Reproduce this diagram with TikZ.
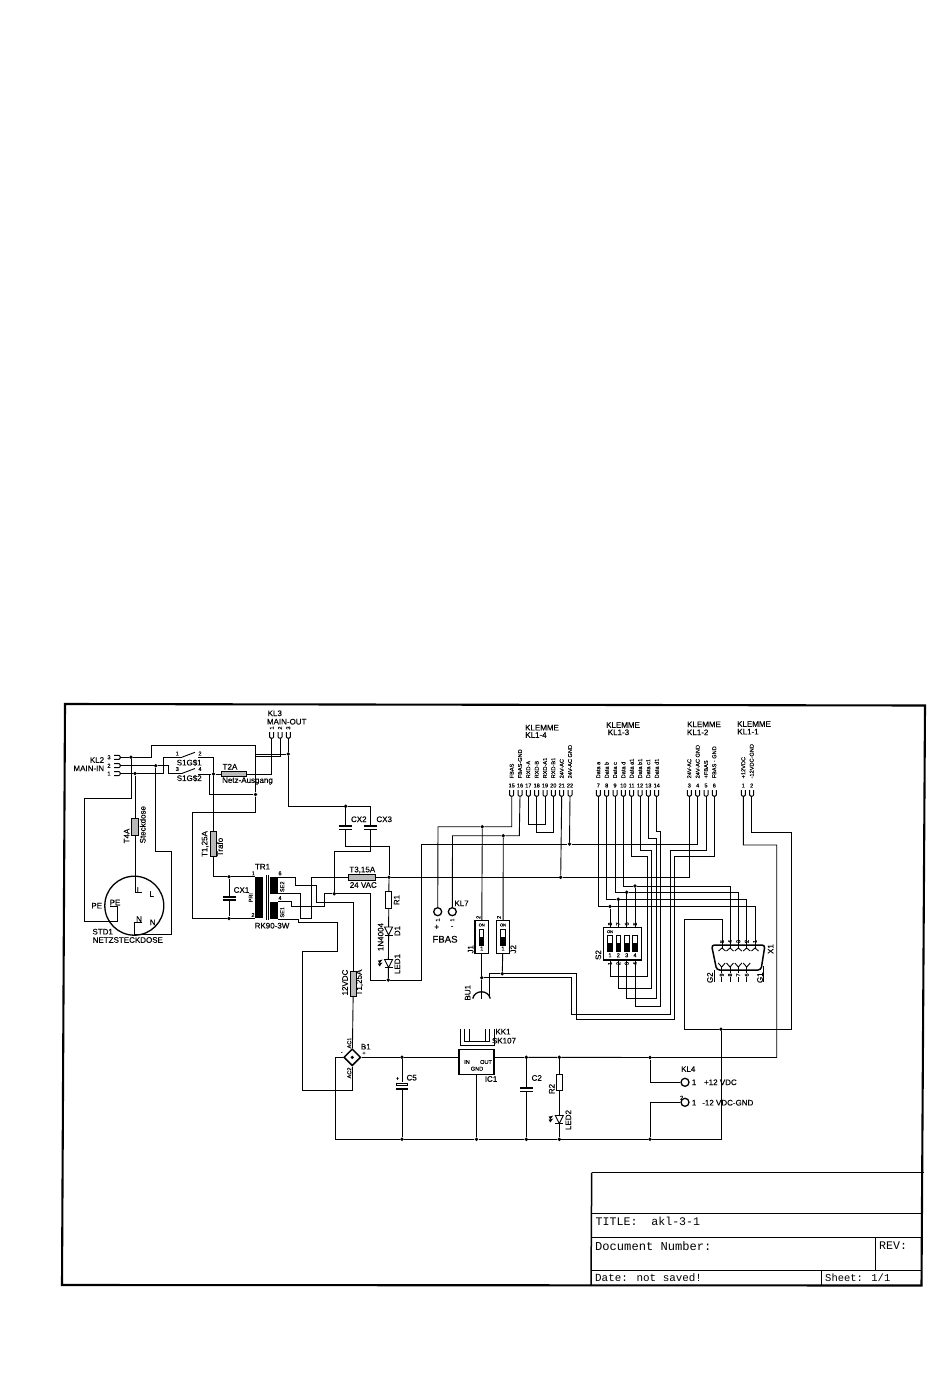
\documentclass[tikz,border=0pt]{standalone}
\usepackage{fontspec}
\setmainfont{Liberation Sans}[FakeBold=0.35]
\newfontfamily\titlefont{Liberation Mono}
\usetikzlibrary{shapes.geometric}
\tikzset{
    wire/.style={line width=0.9pt},
    frameline/.style={line width=2.1pt},
    blockline/.style={line width=1.5pt},
    plate/.style={line width=1.6pt},
    dot/.style={circle,fill=black,inner sep=0pt,minimum size=3.8pt},
    fuse/.style={draw,fill=gray!55,line width=0.9pt,inner sep=0pt},
    resistor/.style={draw,fill=white,line width=0.9pt,inner sep=0pt},
    partbox/.style={draw,line width=1.5pt,inner sep=0pt},
    ring/.style={circle,draw,line width=1.3pt,inner sep=0pt,minimum size=8pt},
    lbl/.style={inner sep=0pt,font=\fontsize{8}{9}\selectfont},
    smalllbl/.style={inner sep=0pt,font=\fontsize{5.6}{6}\selectfont},
    titletxt/.style={inner sep=0pt,anchor=west,font=\titlefont\fontsize{11.6}{12}\selectfont},
    pics/klemme/.style={code={
        \draw[line width=1pt] (-2,-6) -- (-2,-1) -- (-1,0) -- (1,0) -- (2,-1) -- (2,-6);
    }},
    pics/capa/.style={code={
        \fill[white] (-6,-1.6) rectangle (6,1.6);
        \draw[plate] (-6.5,-1.7) -- (6.5,-1.7);
        \draw[plate] (-6.5,1.7) -- (6.5,1.7);
    }},
    pics/diode/.style={code={
        \draw[wire,fill=white] (-4,-4) -- (4,-4) -- (0,4) -- cycle;
        \draw[wire] (-4,4) -- (4,4);
    }},
    pics/ledrays/.style={code={
        \draw[line width=0.6pt,-latex] (-9,-2) -- (-6,-4);
        \draw[line width=0.6pt,-latex] (-9,1) -- (-6,-1);
    }},
}
\begin{document}
\begin{tikzpicture}[x=1pt,y=-1pt]
    \useasboundingbox (0,0) rectangle (950,1383);

    % sheet
    \coordinate (tl) at (65,704);
    \coordinate (tr) at (925,705.5);
    \coordinate (br) at (921.5,1285.5);
    \coordinate (bl) at (62,1285);
    \draw[frameline] (tl) -- (tr) -- (br) -- (bl) -- cycle;
    \coordinate (ba) at (591.7,1172.7);
    \coordinate (bb) at (923.5,1172.7);
    \coordinate (bc) at (591,1285);
    \draw[blockline] (ba) -- (bb);
    \draw[blockline] (ba) -- (bc);
    \coordinate (ca) at (591.5,1213);
    \coordinate (cb) at (923,1213);
    \coordinate (da) at (591.3,1237);
    \coordinate (db) at (922.6,1237);
    \coordinate (ea) at (591,1270);
    \coordinate (eb) at (922,1270);
    \draw[wire] (ca) -- (cb);
    \draw[wire] (da) -- (db);
    \draw[wire] (ea) -- (eb);
    \coordinate (fa) at (875.7,1237);
    \coordinate (fb) at (875.7,1270);
    \coordinate (ga) at (821.7,1270);
    \coordinate (gb) at (821.7,1285);
    \draw[wire] (fa) -- (fb);
    \draw[wire] (ga) -- (gb);
    \node[titletxt] (title) at (595.5,1221.5) {TITLE:\ \ akl-3-1};
    \node[titletxt,font=\titlefont\fontsize{12.1}{12}\selectfont] (docnum) at (595,1246) {Document Number:};
    \node[titletxt] (rev) at (879,1246) {REV:};
    \node[titletxt,font=\titlefont\fontsize{10.9}{12}\selectfont] (date) at (595,1278) {Date: not saved!};
    \node[titletxt,font=\titlefont\fontsize{10.5}{12}\selectfont] (sheet) at (825,1278) {Sheet: 1/1};

    % junctions
    \foreach \nm/\xx/\yy in {jA/131/757.3,jB/135/773.5,jC/155.7/765.7,jD/213.5/774,jE/255.5/794.5,
        jF/288.3/754,jG/229/876.7,jGb/229/918.5,jH/345.7/806.3,jK/334.3/893.7,jN/389/877.3,jL/388.3/980,
        jM/569.5/844,jO/560.7/877.3,jP/482.3/826.7,jQ/503.3/835.7,jR/481.7/977.7,jS/502.3/973.7,
        jT/610/906.5,jTb/618.3/899.3,jTc/626.7/892.3,jTd/635/886,jU/721/1029.3,
        jV/650/1139.3,jW/650/1057.5,jC5/402/1057.3,jC5b/402/1139.3,jIC/476.5/1139.3,
        jC2/526.3/1057.3,jC2b/526.3/1139.3,jR2/559.3/1057.3,jR2b/559.3/1139.3}
        \node[dot] (\nm) at (\xx,\yy) {};

    % parts
    \node[circle,draw,line width=1.3pt,minimum size=59pt,inner sep=0pt] (std) at (134.3,905.7) {};
    \node[fuse,minimum width=6.5pt,minimum height=17pt] (fuseA) at (135,826.7) {};
    \node[fuse,minimum width=5.5pt,minimum height=25pt] (fuseB) at (213.5,844.2) {};
    \node[fuse,minimum width=25pt,minimum height=5pt] (fuseC) at (234.2,774) {};
    \node[fuse,minimum width=27pt,minimum height=5.5pt] (fuseD) at (362.3,877.3) {};
    \node[fuse,minimum width=5.5pt,minimum height=25pt] (fuseE) at (353.3,984.2) {};
    \node[resistor,minimum width=6pt,minimum height=17pt] (R1) at (388.8,899.7) {};
    \node[resistor,minimum width=6pt,minimum height=16.5pt] (R2) at (559.3,1082.5) {};
    \node[diamond,aspect=1,draw,line width=1.5pt,minimum size=17pt,inner sep=0pt] (B1) at (352.3,1057.3) {};
    \node[circle,fill=black,inner sep=0pt,minimum size=3.5pt] (B1mid) at (352.3,1057.3) {};
    \node[partbox,minimum width=34.7pt,minimum height=25pt] (IC1) at (476.5,1061.8) {};
    \node[partbox,minimum width=13.3pt,minimum height=32.6pt] (J1) at (481.7,937) {};
    \node[partbox,minimum width=13.3pt,minimum height=32.6pt] (J2) at (503,937) {};
    \node[partbox,minimum width=38.4pt,minimum height=32.3pt] (S2) at (622.5,943.8) {};
    \node[ring] (kl7a) at (437.7,911.7) {};
    \node[ring] (kl7b) at (452.3,911.7) {};
    \node[ring] (kl4a) at (685,1082.3) {};
    \node[ring] (kl4b) at (685,1102.3) {};

    % pins
    \foreach \nm/\xx/\txt in {15/511.7/FBAS,16/520/FBAS-GND,17/528.3/RXD-A,18/536.7/RXD-B,19/545/RXD-A1,
        20/553.3/RXD-B1,21/561.7/24V-AC,22/570/24V-AC GND,7/598.3/Data a,8/606.7/Data b,9/615/Data c,
        10/623.3/Data d,11/631.7/Data a1,12/640/Data b1,13/648.3/Data c1,14/656.7/Data d1,
        3/689.3/24V-AC,4/697.7/24V-AC GND,5/706/+FBAS,6/714.3/FBAS - GND,1/743.3/+12VDC,2/751.7/-12VDC-GND}{
        \coordinate (pin\nm) at (\xx,796);
        \pic at (pin\nm) {klemme};
        \node[smalllbl] (num\nm) at (\xx,785.5) {\nm};
        \node[smalllbl,rotate=90,anchor=west] (sig\nm) at (\xx,778.5) {\txt};
    }
    \foreach \nm/\xx/\num in {kla/271.7/1,klb/280/2,klc/288.3/3}{
        \coordinate (\nm) at (\xx,738);
        \pic at (\nm) {klemme};
        \node[smalllbl,rotate=90] (num\nm) at (\xx,728) {\num};
    }
    \foreach \nm/\yy/\num in {kma/773.5/1,kmb/765.7/2,kmc/757.3/3}{
        \coordinate (\nm) at (120,\yy);
        \pic[rotate=90] at (\nm) {klemme};
        \node[smalllbl] (num\nm) at (109,\yy) {\num};
    }

    % mains side
    \coordinate (tra) at (254.5,876.7);
    \coordinate (trb) at (254.5,918.5);
    \coordinate (pe) at (110,906.7);
    \coordinate (pL) at (141.7,892.7);
    \coordinate (pN) at (141.7,922.7);
    \coordinate (swa) at (181.7,757.3);
    \coordinate (swb) at (198.3,757.3);
    \coordinate (swc) at (181.7,773.5);
    \coordinate (swd) at (198.3,774);
    \coordinate (swae) at (195,752.3);
    \coordinate (swce) at (195,768.5);
    \draw[wire] (kmc) -- (jA) -- (151.7,757.3) -- (151.7,745.5) -- (255.5,745.5) -- (jE) -- (255.5,812) -- (192.3,812) -- (192.3,918.5) -- (jGb) -- (trb);
    \draw[wire] (jA) -- (131,798.3) -- (84.3,798.3) -- (84.3,921.7) -- (117.3,921.7) -- (117.3,906.7) -- (pe);
    \draw[wire] (jB) -- (fuseA);
    \draw[wire] (fuseA) -- (135,892.7) -- (pL);
    \draw[wire] (jC) -- (155.7,851.7) -- (171,851.7) -- (171,934.5) -- (134,934.5) -- (134,922.7) -- (pN);
    \draw[wire] (kma) -- (jB) -- (163.3,773.5) -- (163.3,757.3) -- (swa);
    \draw[wire] (kmb) -- (jC) -- (168.3,765.7) -- (168.3,773.5) -- (swc);
    \draw[wire] (swa) -- (swae);
    \draw[wire] (swc) -- (swce);
    \draw[wire] (swb) -- (213.5,757.3) -- (jD) -- (fuseB);
    \draw[wire] (fuseB) -- (213.5,876.7) -- (jG) -- (tra);
    \draw[wire] (swd) -- (jD) -- (fuseC);
    \draw[wire] (swd) -- (209,774) -- (209,794.5) -- (jE);
    \draw[wire] (fuseC) -- (271.7,774) -- (kla);
    \draw[wire] (klb) -- (280,756.7) -- (255.5,756.7);
    \draw[wire] (klc) -- (jF) -- (288.3,806.3) -- (jH) -- (370.7,806.3) -- (370.7,851.7) -- (334.3,851.7) -- (jK);
    \draw[wire] (255.5,754) -- (jF);
    \draw[wire] (jG) -- (jGb);
    \pic at (229,898.4) {capa};

    % transformer
    \fill (255,876.7) rectangle (263,918.3);
    \fill (270,877) rectangle (278,894);
    \fill (270,901.7) rectangle (278,919);
    \draw[wire] (266,875) -- (266,920);
    \draw[wire] (268.3,875) -- (268.3,920);
    \coordinate (seca) at (278,877.3);
    \coordinate (secb) at (278,893.5);
    \coordinate (secc) at (278,901.7);
    \coordinate (secd) at (278,919);
    \draw[wire] (seca) -- (295,877.3) -- (295,885.7) -- (316.7,885.7) -- (316.7,902) -- (353.3,902) -- (fuseE);
    \draw[wire] (fuseE) -- (B1);
    \draw[wire] (secc) -- (291.7,901.7) -- (291.7,906) -- (324.3,906) -- (324.3,893.7) -- (jK) -- (370,893.7) -- (370,980) -- (jL) -- (421,980) -- (421,844) -- (jM) -- (697.7,844) -- (pin4);
    \draw[wire] (secb) -- (300,893.5) -- (300,918.7) -- (311.7,918.7) -- (311.7,877.3) -- (fuseD);
    \draw[wire] (fuseD) -- (jN) -- (jO) -- (689.3,877.3) -- (pin3);
    \draw[wire] (secd) -- (298,919) -- (298,922.7) -- (337,922.7) -- (337,951.5) -- (302.7,951.5) -- (302.7,1090) -- (352.3,1090) -- (B1);
    \draw[wire] (jH) -- (345.7,846) -- (389,846) -- (jN);
    \draw[wire] (jN) -- (R1);
    \draw[wire] (R1) -- (jL);
    \pic at (345.7,827.6) {capa};
    \pic at (370.7,827.6) {capa};
    \pic at (388.6,931) {diode};
    \pic at (388.6,963.5) {diode};
    \pic at (388.6,963.5) {ledrays};

    % terminals and jumpers
    \draw[wire] (pin21) -- (jO);
    \draw[wire] (pin22) -- (jM);
    \draw[wire] (pin15) -- (511.7,826.7) -- (jP) -- (438,826.7) -- (kl7a);
    \draw[wire] (pin16) -- (519.3,835.7) -- (jQ) -- (452.5,835.7) -- (kl7b);
    \draw[wire] (pin17) -- (528.3,824.5) -- (545,824.5) -- (pin19);
    \draw[wire] (pin18) -- (536.7,832.5) -- (553.3,832.5) -- (pin20);
    \draw[wire] (jP) -- (J1);
    \draw[wire] (jQ) -- (J2);
    \draw[wire] (J1) -- (jR);
    \draw[wire] (J2) -- (jS);
    \coordinate (bua) at (481.7,999);
    \coordinate (bub) at (489.3,997);
    \draw[wire] (jR) -- (bua);
    \draw[line width=1.3pt] (472.7,998.5) .. controls (475,989.5) and (488,989.5) .. (490.3,998.5);
    \draw[wire] (bub) -- (489.3,973.7) -- (jS) -- (576,973.7) -- (576,1019.3) -- (674.6,1019.3) -- (674.6,856.7) -- (714.3,856.7) -- (pin6);
    \draw[wire] (jR) -- (571.7,977.7) -- (571.7,1014.5) -- (670,1014.5) -- (670,850.7) -- (706,850.7) -- (pin5);
    \foreach \xx in {481.7,503}{
        \draw[wire] (\xx-2.2,929.5) rectangle (\xx+2.2,945);
        \fill (\xx-2.2,937) rectangle (\xx+2.2,945);
        \node[inner sep=0pt,font=\fontsize{4}{4}\selectfont] (on\xx) at (\xx,925) {ON};
        \node[smalllbl] (one\xx) at (\xx,948.5) {1};
    }

    % dip switch
    \foreach \nn/\xx/\tp/\bt in {1/610/8/1,2/618.3/7/2,3/626.7/6/3,4/635/5/4}{
        \coordinate (stop\nn) at (\xx,927.7);
        \coordinate (sbot\nn) at (\xx,960);
        \draw[wire] (\xx-2.3,935) rectangle (\xx+2.3,951.7);
        \fill (\xx-2.3,943) rectangle (\xx+2.3,951.7);
        \node[smalllbl] (snum\nn) at (\xx,955.3) {\nn};
        \node[smalllbl,rotate=90] (stpn\nn) at (\xx,924) {\tp};
        \node[smalllbl,rotate=90] (sbtn\nn) at (\xx,963.5) {\bt};
    }
    \node[inner sep=0pt,font=\fontsize{4}{4}\selectfont] (sson) at (610,931.7) {ON};
    \draw[wire] (pin7) -- (598.3,906.5) -- (jT) -- (755,906.5) -- (755,948);
    \draw[wire] (pin8) -- (606.7,899.3) -- (jTb) -- (746.7,899.3) -- (746.7,948);
    \draw[wire] (pin9) -- (615,892.3) -- (jTc) -- (738.3,892.3) -- (738.3,948);
    \draw[wire] (pin10) -- (623.3,886) -- (jTd) -- (730,886) -- (730,948);
    \draw[wire] (jT) -- (stop1);
    \draw[wire] (jTb) -- (stop2);
    \draw[wire] (jTc) -- (stop3);
    \draw[wire] (jTd) -- (stop4);
    \draw[wire] (pin11) -- (631.7,856.7) -- (647.7,856.7) -- (647.7,976) -- (610,976) -- (sbot1);
    \draw[wire] (pin12) -- (640,850.7) -- (651.7,850.7) -- (651.7,988.7) -- (618.3,988.7) -- (sbot2);
    \draw[wire] (pin13) -- (648.3,838.3) -- (656,838.3) -- (656,998.3) -- (626.7,998.3) -- (sbot3);
    \draw[wire] (pin14) -- (656.7,831.7) -- (660,831.7) -- (660,1006) -- (635,1006) -- (sbot4);

    % sub-d
    \draw[line width=1.5pt,rounded corners=3pt] (711.5,945) -- (765,945) -- (761,970) -- (716.7,970) -- cycle;
    \foreach \xx/\num in {722/5,730/4,738.3/3,746.7/2,755/1}{
        \draw[wire] (\xx-3.5,951) -- (\xx,948) -- (\xx+3.5,951);
        \node[smalllbl,rotate=90] (xtop\num) at (\xx,941.5) {\num};
    }
    \foreach \xx/\num in {721.7/9,730/8,738.3/7,746.7/6}{
        \draw[wire] (\xx-3.5,963) -- (\xx,967) -- (\xx+3.5,963);
        \draw[wire] (\xx,967) -- (\xx,982);
        \node[smalllbl,rotate=90,fill=white] (xbot\num) at (\xx,975) {\num};
    }
    \draw[wire] (714.2,970) -- (714.2,982);
    \draw[wire] (763,966) -- (763,982);
    \draw[wire] (722,948) -- (722,919.3) -- (684.3,919.3) -- (684.3,1029.3) -- (jU) -- (791.7,1029.3) -- (791.7,832.7) -- (751.7,832.7) -- (pin2);
    \draw[wire] (jU) -- (721,1139.3) -- (jV) -- (jR2b) -- (jC2b) -- (jIC) -- (jC5b) -- (335.7,1139.3) -- (335.7,1057.3) -- (B1);
    \draw[wire] (pin1) -- (743.3,845) -- (776.7,845) -- (776.7,1057.5) -- (jW) -- (jR2) -- (jC2);
    \coordinate (icout) at (494,1057.3);
    \coordinate (icin) at (459.2,1057.3);
    \draw[wire] (jC2) -- (icout);
    \draw[wire] (B1) -- (jC5) -- (icin);
    \draw[wire] (IC1) -- (jIC);
    \draw[wire] (jC5) -- (jC5b);
    \draw[wire] (jC2) -- (jC2b);
    \draw[wire] (jR2) -- (R2);
    \draw[wire] (R2) -- (jR2b);
    \draw[wire] (jW) -- (650,1082.3) -- (kl4a);
    \draw[wire] (jV) -- (650,1102.3) -- (kl4b);
    \pic at (526.3,1089.6) {capa};
    \fill[white] (396,1081.5) rectangle (408,1090);
    \draw[line width=0.9pt] (396.2,1083) rectangle (407.8,1085.6);
    \draw[plate,line width=2.2pt] (396,1088.8) -- (408,1088.8);
    \pic at (559.3,1119.5) {diode};
    \pic at (559.3,1119.5) {ledrays};

    % heat sink
    \draw[line width=0.9pt] (460,1029) -- (460,1045) -- (494,1045) -- (494,1029);
    \draw[line width=0.9pt] (464.5,1029) -- (464.5,1041) -- (489.5,1041) -- (489.5,1029);
    \draw[line width=0.9pt] (469,1029) -- (469,1041);
    \draw[line width=0.9pt] (485,1029) -- (485,1041);

    % texts
    \foreach \xx/\yy/\txt [count=\n] in {97/760/KL2,88.8/768.3/MAIN-IN,102.7/931.7/STD1,127.8/940/NETZSTECKDOSE,
        274.8/713.3/KL3,286.7/721.7/MAIN-OUT,189.2/762.7/S1G\$1,189.2/778.3/S1G\$2,230/766.7/T2A,247.5/781/Netz-Ausgang,
        96.7/905.7/PE,115/902.5/PE,139/890/L,151.7/894/L,139/919/N,152.7/922.3/N,
        262.5/866.7/TR1,272/925.7/RK90-3W,241.5/890/CX1,362.3/870/{T3,15A},363.3/885/24 VAC,358.8/819.3/CX2,384.2/819.3/CX3,
        542/727.7/KLEMME,536/735/KL1-4,623/725/KLEMME,618.5/732.3/KL1-3,704/724.3/KLEMME,697.7/732.3/KL1-2,754/724/KLEMME,748/731.7/KL1-1,
        461.5/903.3/KL7,436.7/927.3/+,452/927.3/-,
        365.8/1046.7/B1,503/1031.7/KK1,504/1040.7/SK107,491/1079/IC1,411.7/1077.7/C5,536.7/1078/C2,
        688.3/1069/KL4,694/1082.3/1,694/1102.7/1,720.4/1082.3/+12 VDC,727.8/1102.7/-12 VDC-GND}
        \node[lbl] (txt\n) at (\xx,\yy) {\txt};
    \node[lbl,font=\fontsize{9.6}{10}\selectfont] (fbas) at (445,939.3) {FBAS};
    \foreach \xx/\yy/\txt [count=\n] in {126.7/836/T4A,142.7/824.7/Steckdose,205/844/{T1,25A},220/847/Trafo,
        396.7/900/R1,380.7/937/1N4004,397.3/931/D1,397.3/964/LED1,345/982.5/12VDC,359.5/982.5/{T1,25A},
        467.7/992.7/BU1,470.7/949.3/J1,513.3/949.3/J2,598.3/955/S2,770.7/949/X1,710/977.7/G2,760/977.7/G1,
        551.7/1089/R2,568.3/1120/LED2}
        \node[lbl,rotate=90] (rot\n) at (\xx,\yy) {\txt};
    \foreach \xx/\yy/\txt [count=\n] in {250.7/897.7/PRI,282.3/886.7/SE2,282.3/912.3/SE1,349.3/1043/AC1,349.3/1073/AC2,
        437.7/920/1,452.3/920/1,478.3/917.3/2,499/917.3/2}
        \node[smalllbl,rotate=90] (rs\n) at (\xx,\yy) {\txt};
    \foreach \xx/\yy/\txt [count=\n] in {253.3/873.3/1,253/915/2,280/873.3/6,280/898/4,177.3/753.5/1,200/753.5/2,177.3/769/3,200/769/4,
        467/1062/IN,486/1062/OUT,477/1068.7/GND,397.7/1078.7/+,341.7/1053.3/-,364/1053.3/+,681.7/1097.7/2}
        \node[smalllbl] (sm\n) at (\xx,\yy) {\txt};
\end{tikzpicture}
\end{document}
